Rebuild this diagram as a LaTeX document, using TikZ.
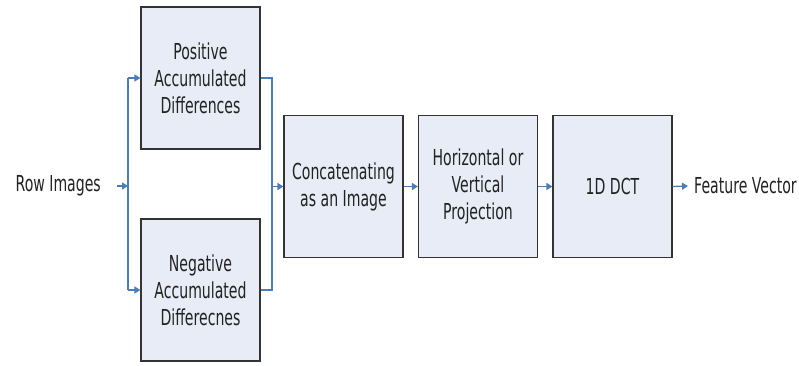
\documentclass[tikz,border=0pt]{standalone}
\usepackage{fontspec}
\setmainfont{DejaVu Sans}[FakeStretch=0.64]
\usetikzlibrary{arrows.meta}
\definecolor{boxfill}{HTML}{E8ECF6}
\definecolor{boxline}{HTML}{333333}
\definecolor{flow}{HTML}{4A7EBB}
\definecolor{ink}{HTML}{222222}
\begin{document}
\begin{tikzpicture}[x=1pt,y=-1pt,
  stage/.style={draw=boxline, fill=boxfill, line width=1.1pt,
    minimum width=119pt, minimum height=142pt, inner sep=0pt,
    align=center, text=ink, font=\fontsize{22}{27}\selectfont},
  label/.style={inner sep=0pt, text=ink, font=\fontsize{22}{27}\selectfont},
  wire/.style={draw=flow, line width=1.3pt},
  flowarrow/.style={wire, -{Triangle[length=6pt,width=7pt]}}]
\useasboundingbox (0,0) rectangle (799,365);

% processing stages
\node[stage] (pos) at (200.5,78) {Positive\\Accumulated\\Differences};
\node[stage] (neg) at (200.5,290) {Negative\\Accumulated\\Differecnes};
\node[stage] (concat) at (343.5,186.5) {Concatenating\\as an Image};
\node[stage] (proj) at (478,186.5) {Horizontal or\\Vertical\\Projection};
\node[stage] (dct) at (612.5,186.5) {1D DCT};

% input and output labels
\node[label, anchor=east] (row) at (101,186) {Row Images};
\node[label, anchor=west] (feat) at (694,186) {Feature Vector};

% branch and merge points
\coordinate (rowout) at (117,186);
\coordinate (split) at (128,186);
\coordinate (merge) at (272,186.5);

% split the input into the two accumulation stages
\draw[flowarrow] (rowout) -- (split);
\draw[wire] (pos.west -| split) -- (neg.west -| split);
\draw[flowarrow] (pos.west -| split) -- (pos.west);
\draw[flowarrow] (neg.west -| split) -- (neg.west);

% merge both results into the concatenation stage
\draw[wire] (pos.east) -- (pos.east -| merge) -- (neg.east -| merge) -- (neg.east);
\draw[flowarrow] (merge) -- (concat.west);

% main chain
\draw[flowarrow] (concat.east) -- (proj.west);
\draw[flowarrow] (proj.east) -- (dct.west);
\draw[flowarrow] (dct.east) -- ([xshift=-6pt]feat.west);
\end{tikzpicture}
\end{document}
